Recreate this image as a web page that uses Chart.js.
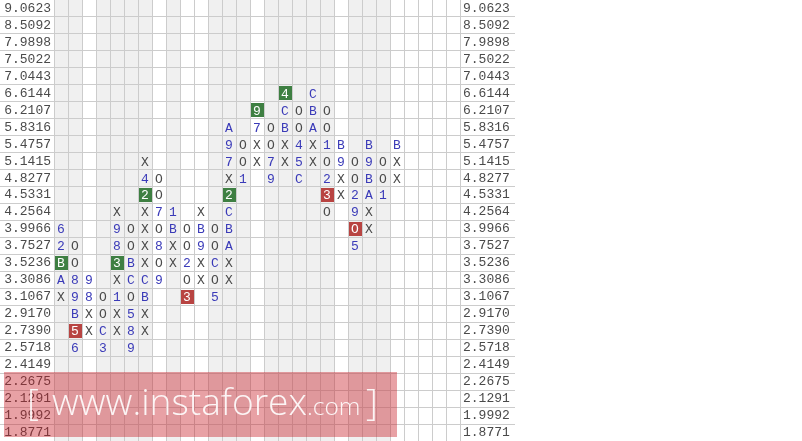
<!DOCTYPE html>
<html>
<head>
<meta charset="utf-8">
<script src="https://cdn.jsdelivr.net/npm/chart.js@4.4.1/dist/chart.umd.min.js"></script>
<style>
html, body { margin: 0; padding: 0; background: #fff; overflow: hidden; }
#wrap { width: 802px; height: 441px; }
</style>
</head>
<body>
<div id="wrap"><canvas id="pnf" width="802" height="441"></canvas></div>
<script>
// price levels, top to bottom
const priceLevels = [
    '9.0623', '8.5092', '7.9898', '7.5022', '7.0443', '6.6144', '6.2107',
    '5.8316', '5.4757', '5.1415', '4.8277', '4.5331', '4.2564', '3.9966',
    '3.7527', '3.5236', '3.3086', '3.1067', '2.9170', '2.7390', '2.5718',
    '2.4149', '2.2675', '2.1291', '1.9992', '1.8771'
];

const columnCount = 29;
const shadedColumns = [0, 1, 3, 4, 5, 6, 8, 11, 12, 13, 15, 16, 17, 18, 19, 21, 22, 23];

// one string per price level, one char per column, '.' = empty cell
const markRows = [
    '.............................',
    '.............................',
    '.............................',
    '.............................',
    '.............................',
    '................4.C..........',
    '..............9.COBO.........',
    '............A.7OBOAO.........',
    '............9OXOX4X1B.B.B....',
    '......X.....7OX7X5XO9O9OX....',
    '......4O....X1.9.C.2XOBOX....',
    '......2O....2......3X2A1.....',
    '....X.X71.X.C......O.9X......',
    '6...9OXOBOBOB........OX......',
    '2O..8OX8XO9OA........5.......',
    'BO..3BXOX2XCX................',
    'A89.XCC9.OXOX................',
    'X98O1OB..3.5.................',
    '.BXOX5X......................',
    '.5XCX8X......................',
    '.6.3.9.......................',
    '.............................',
    '.............................',
    '.............................',
    '.............................',
    '.............................'
];

// highlighted cells as [column, row]
const greenCells = [[16, 5], [14, 6], [6, 11], [12, 11], [0, 15], [4, 15]];
const redCells = [[19, 11], [21, 13], [9, 17], [1, 19]];

const GRID = '#cccccc';
const SHADE = '#f0f0f0';
const MONO = '"Liberation Mono", "Courier New", monospace';

function cellKey(c, r) { return c + ':' + r; }
const greenSet = new Set(greenCells.map(([c, r]) => cellKey(c, r)));
const redSet = new Set(redCells.map(([c, r]) => cellKey(c, r)));

const points = [];
markRows.forEach((row, r) => {
    for (let c = 0; c < row.length; c++) {
        const ch = row[c];
        if (ch === '.') continue;
        let box = null;
        if (greenSet.has(cellKey(c, r))) box = 'green';
        if (redSet.has(cellKey(c, r))) box = 'red';
        points.push({ x: c + 0.5, y: priceLevels[r], glyph: ch, box: box });
    }
});

// column shading, drawn under the grid
const shadePlugin = {
    id: 'shade',
    beforeDraw(chart) {
        const { ctx, chartArea, scales } = chart;
        ctx.save();
        ctx.fillStyle = SHADE;
        shadedColumns.forEach(c => {
            const x0 = scales.x.getPixelForValue(c);
            const x1 = scales.x.getPixelForValue(c + 1);
            ctx.fillRect(x0, chartArea.top, x1 - x0, chartArea.bottom - chartArea.top);
        });
        ctx.restore();
    }
};

// X / O / month glyphs at each point position
const glyphPlugin = {
    id: 'glyphs',
    afterDatasetsDraw(chart) {
        const ctx = chart.ctx;
        const meta = chart.getDatasetMeta(0);
        const data = chart.data.datasets[0].data;
        ctx.save();
        ctx.font = '13px ' + MONO;
        ctx.textAlign = 'center';
        ctx.textBaseline = 'middle';
        meta.data.forEach((el, i) => {
            const p = data[i];
            let color = (p.glyph === 'X' || p.glyph === 'O') ? '#4a4a4a' : '#3a3ab8';
            if (p.box) {
                ctx.fillStyle = p.box === 'green' ? '#3e7f42' : '#b84442';
                ctx.fillRect(Math.round(el.x) - 6, Math.round(el.y) - 7, 13, 14);
                color = '#ffffff';
            }
            ctx.fillStyle = color;
            ctx.fillText(p.glyph, el.x, el.y + 1);
        });
        ctx.restore();
    }
};

const watermarkPlugin = {
    id: 'watermark',
    afterDraw(chart) {
        const ctx = chart.ctx;
        ctx.save();
        ctx.fillStyle = 'rgba(200, 30, 40, 0.42)';
        ctx.fillRect(4, 372, 393, 65);
        const face = '"Open Sans", "DejaVu Sans", sans-serif';
        ctx.font = '300 34px ' + face;
        const size = 34 * 255 / ctx.measureText('www.instaforex').width;
        ctx.fillStyle = 'rgba(255, 255, 255, 0.9)';
        ctx.textBaseline = 'alphabetic';
        ctx.font = '300 ' + size + 'px ' + face;
        ctx.fillText('[', 27, 415);
        ctx.fillText('www.instaforex', 52, 415);
        ctx.fillText(']', 366, 415);
        ctx.font = '300 ' + (size * 0.66) + 'px ' + face;
        ctx.fillText('.com', 307, 415);
        ctx.restore();
    }
};

function priceAxis(position, width, padding, onChart) {
    return {
        type: 'category',
        position: position,
        labels: priceLevels,
        offset: true,
        grid: {
            offset: true,
            drawOnChartArea: onChart,
            tickLength: width,
            color: ctx => ctx.index === 0 ? 'rgba(0,0,0,0)' : GRID
        },
        border: { display: true, color: GRID },
        ticks: {
            autoSkip: false,
            padding: padding,
            color: '#4a4a4a',
            font: { family: MONO, size: 13 }
        },
        afterFit: scale => { scale.width = width; }
    };
}

new Chart(document.getElementById('pnf'), {
    type: 'scatter',
    data: {
        datasets: [{
            data: points,
            pointRadius: 0,
            pointHoverRadius: 0
        }]
    },
    options: {
        responsive: false,
        animation: false,
        devicePixelRatio: 1,
        layout: { padding: { left: 0, right: 287, top: 0, bottom: 0 } },
        plugins: { legend: { display: false }, tooltip: { enabled: false } },
        events: [],
        scales: {
            x: {
                type: 'linear',
                min: 0,
                max: columnCount,
                afterBuildTicks: scale => {
                    scale.ticks = Array.from({ length: columnCount + 1 }, (_, i) => ({ value: i }));
                },
                grid: { color: GRID, drawTicks: false },
                border: { display: false },
                ticks: { display: false },
                afterFit: scale => { scale.height = 0; }
            },
            y: priceAxis('left', 54, -51, true),
            y2: priceAxis('right', 55, -52, false)
        }
    },
    plugins: [shadePlugin, glyphPlugin, watermarkPlugin]
});
</script>
</body>
</html>
